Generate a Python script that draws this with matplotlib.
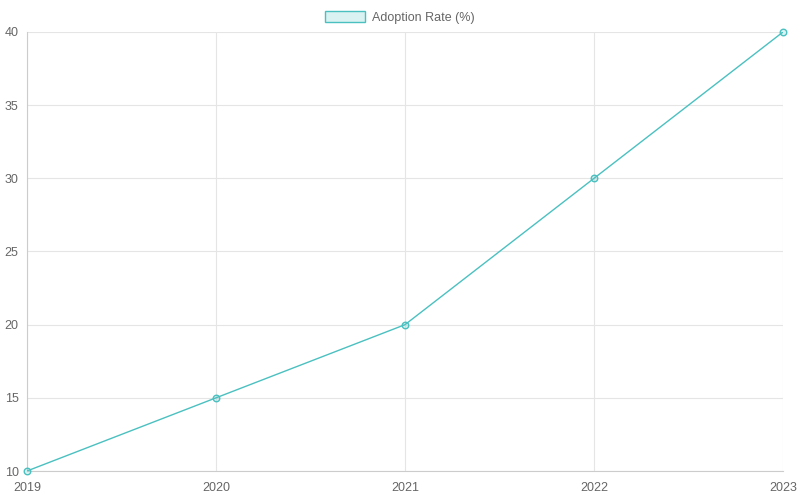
import matplotlib

matplotlib.use("Agg")

import matplotlib.pyplot as plt
from matplotlib.patches import Patch

matplotlib.rcParams["font.family"] = ["Liberation Sans", "DejaVu Sans"]
matplotlib.rcParams["font.size"] = 9

years = ["2019", "2020", "2021", "2022", "2023"]
adoption = [10, 15, 20, 30, 40]
y_ticks = [10, 15, 20, 25, 30, 35, 40]

teal = (75 / 255, 192 / 255, 192 / 255)
fill = (75 / 255, 192 / 255, 192 / 255, 0.2)
grid_color = "#e5e5e5"
text_color = "#666666"

fig = plt.figure(figsize=(8, 5), dpi=100)
ax = fig.add_axes([27 / 800, 1 - 471 / 500, (783 - 27) / 800, (471 - 32) / 500])

x = list(range(len(years)))
ax.plot(x, adoption, color=teal, lw=1, zorder=3)
ax.scatter(x, adoption, s=22, facecolor=fill, edgecolor=teal, linewidth=1, zorder=4,
           clip_on=False)

ax.set_xlim(0, len(years) - 1)
ax.set_ylim(10, 40)
ax.set_xticks(x, years)
ax.set_yticks(y_ticks)

ax.grid(True, color=grid_color, lw=0.8)
for side in ["top", "right"]:
    ax.spines[side].set_visible(False)
for side in ["left", "bottom"]:
    ax.spines[side].set_color("#cccccc")
    ax.spines[side].set_linewidth(0.8)
ax.tick_params(colors=text_color, length=0, labelsize=9)
ax.tick_params(axis="x", pad=8)
ax.tick_params(axis="y", pad=6)

handle = Patch(facecolor=fill, edgecolor=teal, linewidth=1)
fig.legend(
    [handle],
    ["Adoption Rate (%)"],
    loc="upper center",
    bbox_to_anchor=(0.5, 1.0),
    frameon=False,
    fontsize=9,
    labelcolor=text_color,
    handlelength=3.2,
    handleheight=1.0,
    handletextpad=0.6,
)

fig.savefig("out.png", dpi=100)
